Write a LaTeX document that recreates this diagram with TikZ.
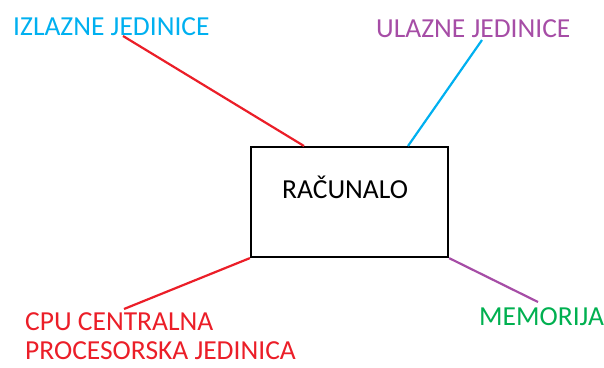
\documentclass[tikz,border=0pt]{standalone}
\usepackage{fontspec}
\setmainfont{Carlito}
\definecolor{cblue}{RGB}{0,176,240}
\definecolor{cpurple}{RGB}{166,77,166}
\definecolor{cgreen}{RGB}{0,176,80}
\definecolor{cred}{RGB}{235,30,40}
\tikzset{
  lbl/.style={anchor=base west, inner sep=0pt, font=\fontsize{27.5}{33}\selectfont},
  conn/.style={line width=2.2pt},
}
\begin{document}
\begin{tikzpicture}[x=1pt,y=1pt]
\useasboundingbox (0,0) rectangle (604,367);
\node[draw, line width=2.2pt, minimum width=197pt, minimum height=110pt, inner sep=0pt] (box) at (349.5,165) {};
\node[lbl] (rac) at (282,168) {RAČUNALO};
\node[lbl, text=cblue] (izl) at (13,331) {IZLAZNE JEDINICE};
\node[lbl, text=cpurple] (ula) at (376,329) {ULAZNE JEDINICE};
\node[lbl, text=cgreen] (mem) at (479,42) {MEMORIJA};
\node[lbl, text=cred] (cpu) at (25,37) {CPU CENTRALNA};
\node[lbl, text=cred] (cpu2) at (25,8) {PROCESORSKA JEDINICA};
\coordinate (a1) at (123,331);
\coordinate (a2) at (304,221);
\coordinate (b1) at (482,327);
\coordinate (b2) at (408,221);
\coordinate (c1) at (124,58);
\coordinate (d1) at (538,65);
\draw[conn, cred] (a1) -- (a2);
\draw[conn, cblue] (b1) -- (b2);
\draw[conn, cred] (box.south west) -- (c1);
\draw[conn, cpurple] (box.south east) -- (d1);
\end{tikzpicture}
\end{document}
